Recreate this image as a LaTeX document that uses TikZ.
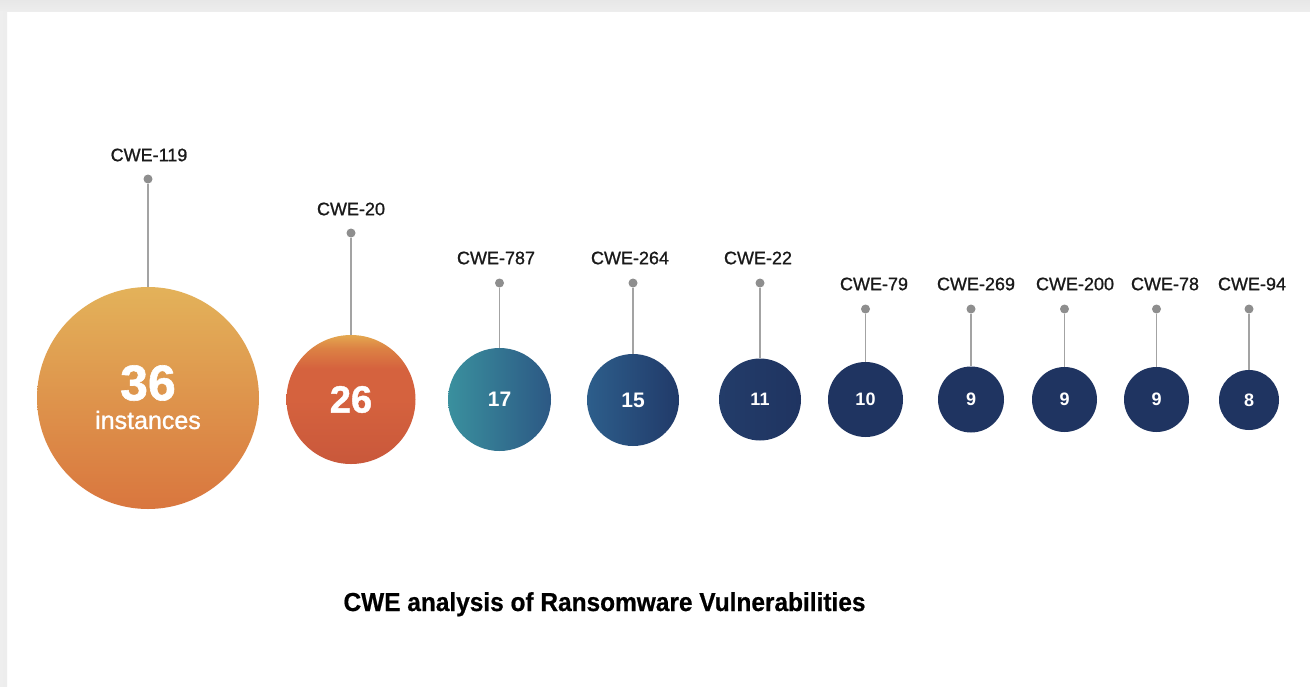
\documentclass[tikz,border=0pt]{standalone}
\usepackage{fontspec}
\setmainfont{Liberation Sans}
\newfontfamily\titlefont[FakeStretch=0.94,FakeBold=0.6]{Liberation Sans}
\newfontfamily\medfont[FakeBold=1.0]{Liberation Sans}
\newfontfamily\heavyfont[FakeBold=1.2]{Liberation Sans}
\definecolor{bandgray}{HTML}{EDEDED}
\definecolor{stemgray}{HTML}{A3A3A3}
\definecolor{dotgray}{HTML}{8E8E8E}
\definecolor{navy}{HTML}{1F3461}
\definecolor{labelink}{HTML}{1A1A1A}
\definecolor{oBot}{RGB}{201,88,59}
\definecolor{oMid}{RGB}{213,98,62}
\definecolor{oHi}{RGB}{220,130,68}
\definecolor{oTop}{RGB}{228,168,80}
\pgfdeclareverticalshading{ballshade}{100bp}{color(0bp)=(oBot); color(25bp)=(oBot); color(50bp)=(oMid); color(62bp)=(oMid); color(70bp)=(oHi); color(75bp)=(oTop); color(100bp)=(oTop)}
\tikzset{
  bubble/.style={circle, inner sep=0pt, draw=none},
  dotnode/.style={circle, inner sep=0pt, minimum size=9pt, fill=dotgray},
  stem/.style={draw=stemgray, line width=1.1pt},
  cwelab/.style={inner sep=0pt, text=labelink, font=\medfont\fontsize{18}{20}\selectfont},
  numtxt/.style={inner sep=0pt, text=white, font=\bfseries\fontsize{18}{20}\selectfont},
}
\begin{document}
\begin{tikzpicture}[x=1pt,y=-1pt]
\useasboundingbox (0,0) rectangle (1310,686);
\fill[white] (0,0) rectangle (1310,686);
\shade[top color=bandgray!80!gray!60, bottom color=bandgray] (0,0) rectangle (1310,11);
\shade[left color=bandgray!85!gray!50, right color=bandgray] (0,11) rectangle (7,686);

% bubbles
\node[bubble, minimum size=222pt, top color={rgb,255:red,227;green,178;blue,90}, bottom color={rgb,255:red,217;green,118;blue,62}] (c1) at (148,398) {};
\node[bubble, minimum size=129pt, shading=ballshade] (c2) at (351,399.5) {};
\node[bubble, minimum size=103pt, left color={rgb,255:red,58;green,144;blue,158}, right color={rgb,255:red,44;green,88;blue,132}] (c3) at (499.5,399.5) {};
\node[bubble, minimum size=92pt, left color={rgb,255:red,45;green,94;blue,139}, right color={rgb,255:red,33;green,58;blue,105}] (c4) at (633,400) {};
\node[bubble, minimum size=82pt, left color={rgb,255:red,35;green,60;blue,105}, right color=navy] (c5) at (760,399.5) {};
\node[bubble, minimum size=75pt, fill=navy] (c6) at (865.5,399.5) {};
\node[bubble, minimum size=66pt, fill=navy] (c7) at (971,399.5) {};
\node[bubble, minimum size=65pt, fill=navy] (c8) at (1064.5,399.5) {};
\node[bubble, minimum size=65pt, fill=navy] (c9) at (1156.5,399.5) {};
\node[bubble, minimum size=60pt, fill=navy] (c10) at (1249,400) {};

% numbers
\node[numtxt, font=\heavyfont\bfseries\fontsize{50}{52}\selectfont] (n1) at (148,383) {36};
\node[numtxt, font=\medfont\fontsize{25}{27}\selectfont] (n1b) at (148,420) {instances};
\node[numtxt, font=\heavyfont\bfseries\fontsize{38}{40}\selectfont] (n2) at (351,399.5) {26};
\node[numtxt, font=\bfseries\fontsize{21}{23}\selectfont] (n3) at (499.5,399.5) {17};
\node[numtxt, font=\bfseries\fontsize{21}{23}\selectfont] (n4) at (633,400) {15};
\node[numtxt] (n5) at (760,399.5) {11};
\node[numtxt] (n6) at (865.5,399.5) {10};
\node[numtxt] (n7) at (971,399.5) {9};
\node[numtxt] (n8) at (1064.5,399.5) {9};
\node[numtxt] (n9) at (1156.5,399.5) {9};
\node[numtxt] (n10) at (1249,400) {8};

% dots (vertically above their bubbles)
\node[dotnode] (d1) at (148,179) {};
\node[dotnode] (d2) at (351,233) {};
\node[dotnode] (d3) at (499.5,283) {};
\node[dotnode] (d4) at (633,283) {};
\node[dotnode] (d5) at (760,283) {};
\node[dotnode] (d6) at (865.5,309) {};
\node[dotnode] (d7) at (971,309) {};
\node[dotnode] (d8) at (1064.5,309) {};
\node[dotnode] (d9) at (1156.5,309) {};
\node[dotnode] (d10) at (1249,309) {};

% stems
\foreach \i in {1,...,10} { \draw[stem] (d\i) -- (c\i); }

% labels
\node[cwelab] (l1) at (149,155) {CWE-119};
\node[cwelab] (l2) at (351,209) {CWE-20};
\node[cwelab] (l3) at (496,258) {CWE-787};
\node[cwelab] (l4) at (630,258) {CWE-264};
\node[cwelab] (l5) at (758,258) {CWE-22};
\node[cwelab] (l6) at (874,284) {CWE-79};
\node[cwelab] (l7) at (976,284) {CWE-269};
\node[cwelab] (l8) at (1075,284) {CWE-200};
\node[cwelab] (l9) at (1165,284) {CWE-78};
\node[cwelab] (l10) at (1252,284) {CWE-94};

% title
\node[inner sep=0pt, anchor=base, text=black, font=\titlefont\bfseries\fontsize{26}{30}\selectfont] (title) at (604.5,611) {CWE analysis of Ransomware Vulnerabilities};
\end{tikzpicture}
\end{document}
